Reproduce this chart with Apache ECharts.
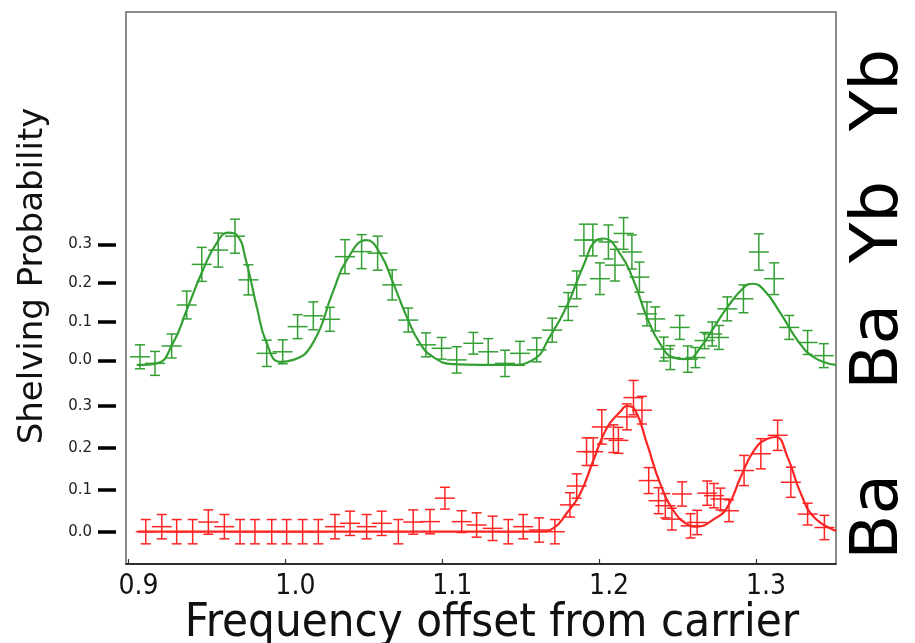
<!DOCTYPE html>
<html>
<head>
<meta charset="utf-8">
<script src="https://cdn.jsdelivr.net/npm/echarts@6/dist/echarts.min.js"></script>
<style>
  html, body { margin: 0; padding: 0; background: #fff; }
  #chart { width: 915px; height: 643px; }
</style>
</head>
<body>
<div id="chart"></div>
<script>
// Yb spectrum (green): measured points with error bars
const ybFreq = [0.9073, 0.9169, 0.9275, 0.9371, 0.9467, 0.9572, 0.9679, 0.9764, 0.9881, 0.9983,
  1.0078, 1.0178, 1.0284, 1.0380, 1.0486, 1.0588, 1.0681, 1.0783, 1.0896, 1.0996,
  1.1092, 1.1198, 1.1293, 1.1400, 1.1495, 1.1602, 1.1701, 1.1803, 1.1857, 1.1903,
  1.1960, 1.2005, 1.2059, 1.2101, 1.2156, 1.2209, 1.2257, 1.2305, 1.2358, 1.2412,
  1.2454, 1.2514, 1.2565, 1.2614, 1.2672, 1.2721, 1.2764, 1.2817, 1.2920, 1.3018,
  1.3116, 1.3212, 1.3329, 1.3432];
const ybProb = [0.009, -0.008, 0.037, 0.143, 0.248, 0.285, 0.321, 0.208, 0.018, 0.022,
  0.087, 0.115, 0.106, 0.268, 0.281, 0.277, 0.195, 0.104, 0.040, 0.031,
  0.001, 0.044, 0.022, -0.008, 0.018, 0.027, 0.078, 0.139, 0.195, 0.311,
  0.311, 0.211, 0.306, 0.246, 0.328, 0.280, 0.215, 0.120, 0.107, 0.029,
  0.007, 0.085, 0.003, 0.007, 0.051, 0.068, 0.059, 0.133, 0.159, 0.280,
  0.211, 0.085, 0.046, 0.012];
const ybErr = [0.031, 0.031, 0.031, 0.036, 0.044, 0.044, 0.044, 0.039, 0.034, 0.031,
  0.031, 0.036, 0.031, 0.044, 0.044, 0.044, 0.039, 0.031, 0.031, 0.028,
  0.034, 0.028, 0.034, 0.034, 0.031, 0.031, 0.031, 0.036, 0.036, 0.041,
  0.041, 0.041, 0.044, 0.041, 0.041, 0.044, 0.039, 0.031, 0.031, 0.031,
  0.031, 0.031, 0.034, 0.026, 0.021, 0.031, 0.031, 0.031, 0.036, 0.047,
  0.041, 0.031, 0.031, 0.031];

// Yb fitted lineshape
const ybFitFreq = [0.9052, 0.9180, 0.9284, 0.9371, 0.9475, 0.9562, 0.9636, 0.9690, 0.9753, 0.9817,
  0.9881, 0.9966, 1.0050, 1.0176, 1.0303, 1.0391, 1.0518, 1.0603, 1.0688, 1.0773,
  1.0858, 1.0941, 1.1068, 1.1240, 1.1431, 1.1578, 1.1686, 1.1793, 1.1897, 1.1984,
  1.2027, 1.2133, 1.2219, 1.2305, 1.2390, 1.2475, 1.2561, 1.2646, 1.2732, 1.2817,
  1.2924, 1.2977, 1.3052, 1.3159, 1.3266, 1.3372, 1.3509];
const ybFitProb = [-0.012, -0.008, 0.045, 0.130, 0.234, 0.303, 0.330, 0.324, 0.251, 0.139,
  0.044, -0.004, 0.001, 0.045, 0.177, 0.259, 0.311, 0.277, 0.199, 0.113,
  0.044, 0.009, -0.010, -0.012, -0.012, 0.001, 0.061, 0.139, 0.242, 0.311,
  0.315, 0.276, 0.207, 0.111, 0.042, 0.007, 0.003, 0.033, 0.085, 0.137,
  0.189, 0.198, 0.181, 0.120, 0.051, 0.007, -0.012];

// Ba spectrum (red): measured points with error bars
const baFreq = [0.9110, 0.9212, 0.9307, 0.9409, 0.9509, 0.9611, 0.9711, 0.9806, 0.9913, 1.0008,
  1.0110, 1.0210, 1.0316, 1.0412, 1.0518, 1.0614, 1.0720, 1.0815, 1.0922, 1.1017,
  1.1124, 1.1219, 1.1321, 1.1421, 1.1516, 1.1618, 1.1718, 1.1814, 1.1857, 1.1920,
  1.1962, 1.2017, 1.2091, 1.2123, 1.2177, 1.2219, 1.2273, 1.2316, 1.2379, 1.2422,
  1.2464, 1.2529, 1.2583, 1.2625, 1.2689, 1.2732, 1.2774, 1.2828, 1.2924, 1.3031,
  1.3138, 1.3222, 1.3329, 1.3436];
const baProb = [0, 0.012, 0, 0, 0.023, 0.012, 0, 0, 0, 0,
  0, 0, 0.012, 0.020, 0.012, 0.020, 0, 0.023, 0.024, 0.080,
  0.024, 0.016, 0.008, 0, 0.012, 0.004, 0, 0.064, 0.109, 0.191,
  0.191, 0.250, 0.222, 0.218, 0.274, 0.320, 0.290, 0.122, 0.074, 0.062,
  0.030, 0.090, 0.014, 0.022, 0.092, 0.086, 0.078, 0.050, 0.146, 0.186,
  0.230, 0.118, 0.042, 0.010];
const baErr = [0.029, 0.029, 0.029, 0.029, 0.029, 0.029, 0.029, 0.029, 0.029, 0.029,
  0.029, 0.029, 0.029, 0.029, 0.029, 0.029, 0.029, 0.029, 0.029, 0.026,
  0.026, 0.029, 0.029, 0.029, 0.029, 0.029, 0.029, 0.029, 0.029, 0.033,
  0.033, 0.041, 0.033, 0.031, 0.031, 0.041, 0.033, 0.031, 0.031, 0.029,
  0.026, 0.029, 0.029, 0.029, 0.029, 0.029, 0.026, 0.026, 0.036, 0.036,
  0.036, 0.036, 0.026, 0.029];

// Ba fitted lineshape
const baFitFreq = [0.9060, 1.0000, 1.1000, 1.1622, 1.1707, 1.1793, 1.1878, 1.1963, 1.2048, 1.2134,
  1.2177, 1.2230, 1.2305, 1.2390, 1.2475, 1.2561, 1.2625, 1.2732, 1.2817, 1.2902,
  1.2988, 1.3073, 1.3127, 1.3201, 1.3287, 1.3372, 1.3511];
const baFitProb = [0, 0, 0, 0, 0.008, 0.044, 0.090, 0.170, 0.247, 0.286,
  0.300, 0.290, 0.210, 0.114, 0.050, 0.018, 0.012, 0.030, 0.058, 0.130,
  0.194, 0.222, 0.226, 0.178, 0.090, 0.034, 0.002];

// Axis ticks and side labels
const xTicks = [0.9, 1.0, 1.1, 1.2, 1.3];
const yTicks = [0, 0.1, 0.2, 0.3];
const sideLabels = ['Yb', 'Yb', 'Ba', 'Ba'];

const GREEN = '#34a034';
const RED = '#ff2424';

function zip3(a, b, c) { return a.map((v, i) => [v, b[i], c[i]]); }
function zip2(a, b) { return a.map((v, i) => [v, b[i]]); }

function errorBars(color) {
  return function (params, api) {
    const x = api.value(0), y = api.value(1), e = api.value(2);
    const c = api.coord([x, y]);
    const hi = api.coord([x, y + e]);
    const lo = api.coord([x, y - e]);
    const hw = 10, cw = 5;
    const st = { stroke: color, lineWidth: 1.5 };
    return {
      type: 'group',
      children: [
        { type: 'line', shape: { x1: c[0] - hw, y1: c[1], x2: c[0] + hw, y2: c[1] }, style: st },
        { type: 'line', shape: { x1: c[0], y1: hi[1], x2: c[0], y2: lo[1] }, style: st },
        { type: 'line', shape: { x1: c[0] - cw, y1: hi[1], x2: c[0] + cw, y2: hi[1] }, style: st },
        { type: 'line', shape: { x1: c[0] - cw, y1: lo[1], x2: c[0] + cw, y2: lo[1] }, style: st }
      ]
    };
  };
}

const chart = echarts.init(document.getElementById('chart'), null, { renderer: 'canvas' });

const yAxisCommon = {
  type: 'value',
  position: 'left',
  offset: 10,
  axisLine: { show: false },
  splitLine: { show: false },
  axisTick: { show: true, customValues: yTicks, length: 18, lineStyle: { color: '#000', width: 3.5 } },
  axisLabel: {
    show: true, customValues: yTicks, margin: 24,
    formatter: v => v.toFixed(1),
    fontFamily: 'DejaVu Sans', fontSize: 15, color: '#222'
  }
};

const condensed = "'DejaVu Sans Condensed', 'Liberation Sans Narrow', sans-serif";
const sideY = [90, 222, 347, 517];

chart.setOption({
  backgroundColor: '#fff',
  animation: false,
  grid: {
    left: 126, right: 79, top: 12, bottom: 79,
    outerBoundsMode: 'none', containLabel: false,
    show: true, borderColor: '#666', borderWidth: 1.5, backgroundColor: 'transparent'
  },
  xAxis: {
    type: 'value',
    min: 0.8984, max: 1.351,
    axisLine: { show: true, onZero: false, lineStyle: { color: '#111', width: 1.5 } },
    splitLine: { show: false },
    axisTick: { show: true, inside: true, length: 5, customValues: xTicks, lineStyle: { color: '#333', width: 1.2 } },
    axisLabel: {
      show: true, customValues: xTicks, margin: 9,
      formatter: v => v.toFixed(1),
      fontFamily: condensed, fontSize: 28, color: '#111', padding: [0, 0, 0, 20]
    },
    name: 'Frequency offset from carrier',
    nameLocation: 'middle',
    nameGap: 36,
    nameMoveOverlap: false,
    nameTextStyle: { fontFamily: condensed, fontSize: 47, color: '#111', padding: [0, 0, 0, 22] }
  },
  yAxis: [
    Object.assign({}, yAxisCommon, { min: -0.5268, max: 0.9007 }),
    Object.assign({}, yAxisCommon, { min: -0.0771, max: 1.2403 })
  ],
  graphic: [
    {
      type: 'text', x: 33, y: 276, rotation: Math.PI / 2,
      style: {
        text: 'Shelving Probability', font: '34px "DejaVu Sans"', fill: '#111',
        align: 'center', verticalAlign: 'middle'
      }
    }
  ].concat(sideLabels.map((t, i) => ({
    type: 'text', x: 880, y: sideY[i], rotation: Math.PI / 2,
    style: { text: t, font: '66px "DejaVu Sans"', fill: '#000', align: 'center', verticalAlign: 'middle' }
  }))),
  series: [
    {
      type: 'custom', name: 'Yb data', xAxisIndex: 0, yAxisIndex: 0,
      renderItem: errorBars(GREEN), data: zip3(ybFreq, ybProb, ybErr), z: 3
    },
    {
      type: 'line', name: 'Yb fit', xAxisIndex: 0, yAxisIndex: 0,
      data: zip2(ybFitFreq, ybFitProb), smooth: true, showSymbol: false,
      lineStyle: { color: GREEN, width: 2.2 }, z: 2
    },
    {
      type: 'custom', name: 'Ba data', xAxisIndex: 0, yAxisIndex: 1,
      renderItem: errorBars(RED), data: zip3(baFreq, baProb, baErr), z: 3
    },
    {
      type: 'line', name: 'Ba fit', xAxisIndex: 0, yAxisIndex: 1,
      data: zip2(baFitFreq, baFitProb), smooth: true, showSymbol: false,
      lineStyle: { color: RED, width: 2.2 }, z: 2
    }
  ]
});
</script>
</body>
</html>
